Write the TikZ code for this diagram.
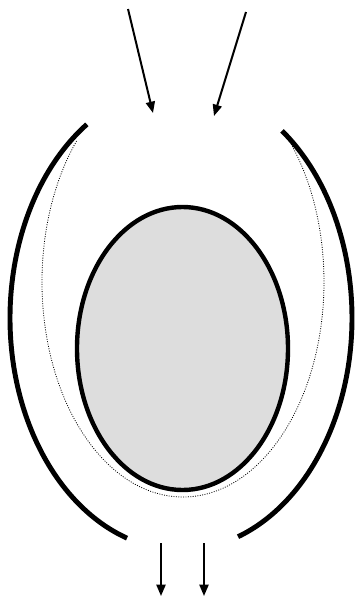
\documentclass[tikz,border=0pt]{standalone}
\usepackage{tikz}
\usetikzlibrary{arrows.meta, shapes.geometric, positioning}
\usepackage{xcolor}
\definecolor{bodygray}{HTML}{DDDDDD}
\tikzstyle{flow}     = [line width=1.5pt, -{Triangle[length=8.5pt, width=6.8pt]}]
\tikzstyle{shell}    = [line width=3.7pt]
\tikzstyle{body}     = [draw, ellipse, line width=3.3pt, fill=bodygray, inner sep=0pt, minimum width=158.25pt, minimum height=212.25pt]
\tikzstyle{gap}      = [line width=0.6pt, dash pattern=on 0.7pt off 1.1pt]

\begin{document}
\begin{tikzpicture}[x=0.75pt, y=0.75pt]

\useasboundingbox (0,0) rectangle (358,-597);

\node[body] (core) at (182.5,-348.5) {};

\coordinate (O) at (181,-318);
\coordinate (D) at (183,-282);

% outer shell
\draw[shell] (O) ++(123.4:171 and 232) arc [start angle=123.4, end angle=251.6, x radius=171, y radius=232];
\draw[shell] (O) ++(53.8:171 and 232) arc [start angle=53.8, end angle=-70.5, x radius=171, y radius=232];

% dotted layer
\draw[gap] (D) ++(139:141 and 215) arc [start angle=139, end angle=404, x radius=141, y radius=215];

\coordinate (in1s) at (128,-9);
\coordinate (in1e) at (153,-113);
\coordinate (in2s) at (246,-12);
\coordinate (in2e) at (214,-116);
\coordinate (out1s) at (161,-543);
\coordinate (out1e) at (161,-596);
\coordinate (out2s) at (204,-543);
\coordinate (out2e) at (204,-596);

\draw[flow] (in1s) -- (in1e);
\draw[flow] (in2s) -- (in2e);
\draw[flow] (out1s) -- (out1e);
\draw[flow] (out2s) -- (out2e);

\end{tikzpicture}
\end{document}
